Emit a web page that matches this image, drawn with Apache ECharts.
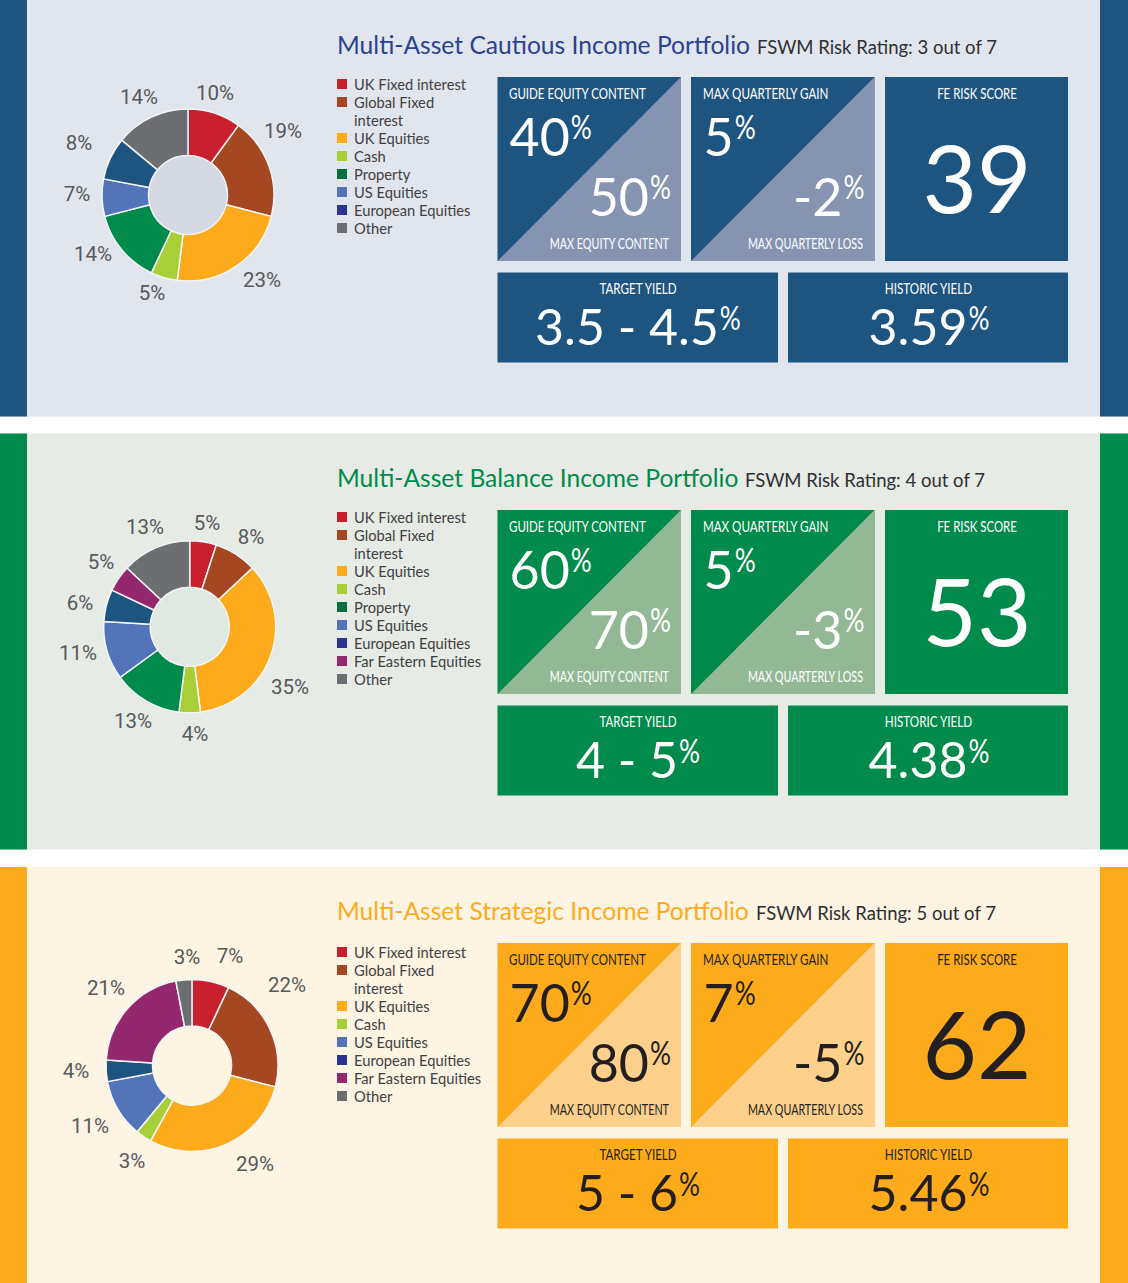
<!DOCTYPE html>
<html>
<head>
<meta charset="utf-8">
<style>
  html, body { margin: 0; padding: 0; background: #fff; }
  #chart { width: 1128px; height: 1283px; }
</style>
<script src="https://cdn.jsdelivr.net/npm/echarts@6/dist/echarts.min.js"></script>
</head>
<body>
<div id="chart"></div>
<script>
// Pie values, one list per portfolio
const cautiousNames = ['UK Fixed interest', 'Global Fixed interest', 'UK Equities', 'Cash', 'Property', 'US Equities', 'European Equities', 'Other']
const cautiousValues = [10, 19, 23, 5, 14, 7, 8, 14]
const balanceNames = ['UK Fixed interest', 'Global Fixed interest', 'UK Equities', 'Cash', 'Property', 'US Equities', 'European Equities', 'Far Eastern Equities', 'Other']
const balanceValues = [5, 8, 35, 4, 13, 11, 6, 5, 13]
const strategicNames = ['UK Fixed interest', 'Global Fixed interest', 'UK Equities', 'Cash', 'US Equities', 'European Equities', 'Far Eastern Equities', 'Other']
const strategicValues = [7, 22, 29, 3, 11, 4, 21, 3]

// hand-placed label centres, the source does not keep them on a circle
const cautiousLabelSpots = [[215, 93], [283, 131], [262, 280], [152, 293], [93, 254], [77, 194], [79, 143], [139, 97]]
const balanceLabelSpots = [[207, 523], [251, 537], [290, 687], [195, 734], [133, 721], [78, 653], [80, 603], [101, 562], [145, 527]]
const strategicLabelSpots = [[230, 956], [287, 985], [255, 1164], [132, 1161], [90, 1126], [76, 1071], [106, 988], [187, 957]]

const sliceColors = {
  'UK Fixed interest': '#c8202c',
  'Global Fixed interest': '#a54721',
  'UK Equities': '#fdab1a',
  'Cash': '#a8cf38',
  'Property': '#008a4b',
  'US Equities': '#5275b9',
  'European Equities': '#1d5580',
  'Far Eastern Equities': '#93286f',
  'Other': '#6d6e71',
}
// the legend key for European Equities is darker than its slice in the source
const legendColors = Object.assign({}, sliceColors, { 'European Equities': '#2a3592', 'Property': '#08703f' })

const panels = [
  {
    top: 0, height: 416.5, legendTop: 83.5, ratingX: 757, names: cautiousNames, values: cautiousValues, spots: cautiousLabelSpots,
    title: 'Multi-Asset Cautious Income Portfolio', rating: 'FSWM Risk Rating: 3 out of 7',
    guide: '40', maxEquity: '50', gain: '5', loss: '-2', score: '39', target: '3.5 - 4.5', historic: '3.59',
    bar: '#1e5580', bg: '#e1e5ed', hole: '#d5d9e4', tile: '#1e5580', tri: '#8694b2', titleColor: '#2b428f', ink: '#ffffff', center: [188, 195],
  },
  {
    top: 433, height: 416.5, legendTop: 516.5, ratingX: 745, names: balanceNames, values: balanceValues, spots: balanceLabelSpots,
    title: 'Multi-Asset Balance Income Portfolio', rating: 'FSWM Risk Rating: 4 out of 7',
    guide: '60', maxEquity: '70', gain: '5', loss: '-3', score: '53', target: '4 - 5', historic: '4.38',
    bar: '#008a4b', bg: '#e6ebe6', hole: '#dfe9e2', tile: '#008a4b', tri: '#93b896', titleColor: '#008a4b', ink: '#ffffff', center: [189.7, 626.8],
  },
  {
    top: 866, height: 417, legendTop: 951.5, ratingX: 756, names: strategicNames, values: strategicValues, spots: strategicLabelSpots,
    title: 'Multi-Asset Strategic Income Portfolio', rating: 'FSWM Risk Rating: 5 out of 7',
    guide: '70', maxEquity: '80', gain: '7', loss: '-5', score: '62', target: '5 - 6', historic: '5.46',
    bar: '#fdab1a', bg: '#fdf4e4', hole: '#fdf4e4', tile: '#fdab1a', tri: '#fdd08b', titleColor: '#fdab1a', ink: '#231f20', center: [192, 1065.5],
  },
]

const FONT = 'Lato, sans-serif'
const measureCtx = document.createElement('canvas').getContext('2d')
function textWidth(str, size) {
  measureCtx.font = size + 'px Lato'
  return measureCtx.measureText(str).width
}

function text(str, x, y, size, fill, align, sx) {
  return {
    type: 'text', x, y, scaleX: sx || 1, silent: true,
    style: { text: str, fontFamily: FONT, fontSize: size, fill, align: align || 'left', verticalAlign: 'middle' },
  }
}

// number plus its raised % sign, anchored left, right or centre on x
function figure(value, x, y, size, pctSize, ink, anchor) {
  const gap = 1
  const w = textWidth(value, size)
  const total = w + gap + textWidth('%', pctSize) * 0.82
  const left = anchor === 'left' ? x : anchor === 'right' ? x - total : x - total / 2
  return [
    text(value, left, y, size, ink),
    text('%', left + w + gap, y - size * 0.18, pctSize, ink, 'left', 0.82),
  ]
}

function rect(x, y, width, height, fill) {
  return { type: 'rect', silent: true, shape: { x, y, width, height }, style: { fill } }
}

function panelGraphics(p) {
  const t = p.top
  const bandTop = t === 866 ? 867 : t + 0.5 * (t > 0)
  const bandH = t + p.height - bandTop
  const out = [
    rect(0, bandTop, 1128, bandH, p.bg),
    rect(0, bandTop, 27, bandH, p.bar),
    rect(1100, bandTop, 28, bandH, p.bar),
    { type: 'circle', silent: true, shape: { cx: p.center[0], cy: p.center[1], r: 41 }, style: { fill: p.hole } },
    text(p.title, 337, t + 44.5, 24.6, p.titleColor),
    text(p.rating, p.ratingX, t + 46.5, 18.5, '#2f2f31'),
  ]

  // legend, the one long name wraps onto a second row
  let row = 0
  p.names.forEach((name) => {
    const y = p.legendTop + row * 18
    out.push(rect(337, y - 4.5, 10, 10, legendColors[name]))
    if (name === 'Global Fixed interest') {
      out.push(text('Global Fixed', 354, y, 15.5, '#414042', 'left', 0.95))
      row++
      out.push(text('interest', 354, p.legendTop + row * 18, 15.5, '#414042', 'left', 0.95))
    } else {
      out.push(text(name, 354, y, 15.5, '#414042', 'left', 0.95))
    }
    row++
  })

  // two split tiles
  ;[497.5, 691].forEach((x) => {
    const y0 = t + 77
    out.push(rect(x, y0, 183.5, 184, p.tile))
    out.push({
      type: 'polygon', silent: true,
      shape: { points: [[x + 183.5, y0], [x + 183.5, y0 + 184], [x, y0 + 184]] },
      style: { fill: p.tri },
    })
  })
  out.push(text('GUIDE EQUITY CONTENT', 509, t + 93, 14.5, p.ink, 'left', 0.795))
  out.push(text('MAX EQUITY CONTENT', 669, t + 243.5, 14.5, p.ink, 'right', 0.745))
  out.push(text('MAX QUARTERLY GAIN', 703, t + 93, 14.5, p.ink, 'left', 0.8))
  out.push(text('MAX QUARTERLY LOSS', 863, t + 243.5, 14.5, p.ink, 'right', 0.74))
  out.push(...figure(p.guide, 509.5, t + 136, 52, 32, p.ink, 'left'))
  out.push(...figure(p.maxEquity, 671, t + 196, 52, 32, p.ink, 'right'))
  out.push(...figure(p.gain, 703.5, t + 136, 52, 32, p.ink, 'left'))
  out.push(...figure(p.loss, 864.5, t + 196, 52, 32, p.ink, 'right'))

  // score tile
  out.push(rect(885, t + 77, 183, 184, p.tile))
  out.push(text('FE RISK SCORE', 977, t + 93, 14.5, p.ink, 'center', 0.79))
  out.push(text(p.score, 977, t + 176, 94, p.ink, 'center'))

  // yield tiles
  out.push(rect(497.5, t + 272.5, 280.5, 90, p.tile))
  out.push(rect(788, t + 272.5, 280, 90, p.tile))
  out.push(text('TARGET YIELD', 638, t + 288, 14.5, p.ink, 'center', 0.8))
  out.push(text('HISTORIC YIELD', 928.5, t + 288, 14.5, p.ink, 'center', 0.805))
  out.push(...figure(p.target, 638, t + 326, 50, 32, p.ink, 'center'))
  out.push(...figure(p.historic, 929, t + 326, 50, 32, p.ink, 'center'))
  return out
}

const chart = echarts.init(document.getElementById('chart'), null, { renderer: 'svg', width: 1128, height: 1283 })

chart.setOption({
  animation: false,
  backgroundColor: '#ffffff',
  graphic: { elements: panels.flatMap(panelGraphics) },
  series: panels.map((p) => ({
    type: 'pie',
    center: p.center,
    radius: [39.5, 86],
    startAngle: 90,
    silent: true,
    avoidLabelOverlap: false,
    itemStyle: { borderColor: '#f4f5f7', borderWidth: 1.5 },
    label: {
      position: 'outside',
      formatter: '{c}%',
      fontFamily: 'Roboto, sans-serif',
      fontSize: 20.5,
      color: '#58595b',
    },
    labelLine: { show: false, length: 7, length2: 0 },
    labelLayout: (params) => {
      const spot = p.spots[params.dataIndex]
      return { x: spot[0], y: spot[1], align: 'center', verticalAlign: 'middle' }
    },
    data: p.names.map((name, i) => ({ name, value: p.values[i], itemStyle: { color: sliceColors[name] } })),
  })),
})
</script>
</body>
</html>
